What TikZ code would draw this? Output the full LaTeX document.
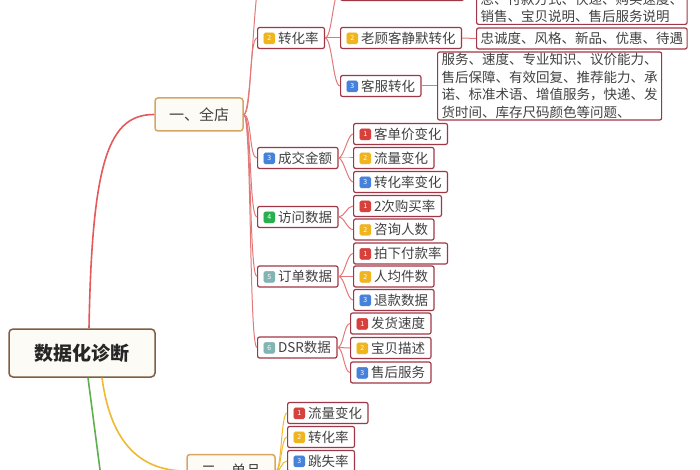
\documentclass[tikz,border=0pt]{standalone}
\usepackage{fontspec}
\setmainfont{Noto Sans CJK SC}
\usetikzlibrary{positioning,calc}
\definecolor{rootbrown}{RGB}{125,95,65}
\definecolor{rootfill}{RGB}{253,251,245}
\definecolor{topictan}{RGB}{215,165,100}
\definecolor{itemred}{RGB}{160,55,70}
\definecolor{linkred}{RGB}{228,120,120}
\definecolor{trunkred}{RGB}{228,90,90}
\definecolor{trunkyellow}{RGB}{240,185,50}
\definecolor{trunkgreen}{RGB}{95,175,80}
\definecolor{textgray}{RGB}{65,65,65}
\definecolor{bdred}{RGB}{215,65,60}
\definecolor{bdyellow}{RGB}{240,180,30}
\definecolor{bdblue}{RGB}{70,130,220}
\definecolor{bdgreen}{RGB}{40,175,80}
\definecolor{bdteal}{RGB}{130,180,180}

% small numbered tag in front of a topic
\newcommand{\badge}[2]{\tikz[baseline={([yshift=-4.8pt]b.center)}]\node[fill=#1,draw=#1,text=white,rounded corners=1.5pt,inner sep=0pt,minimum size=11pt,font=\fontsize{7}{7}\selectfont] (b) {#2};\hspace{3pt}}

\begin{document}
\begin{tikzpicture}[
    x=1pt, y=-1pt,
    rootbox/.style={draw=rootbrown, line width=1.5pt, rounded corners=4pt, fill=rootfill, minimum width=146pt, minimum height=48pt, text=black!85, font=\fontsize{19}{22}\selectfont\bfseries},
    topicbox/.style={draw=topictan, line width=1.5pt, rounded corners=3pt, fill=rootfill, minimum width=88pt, minimum height=33pt, text=textgray, font=\fontsize{15}{18}\selectfont},
    item/.style={draw=itemred, line width=1.2pt, rounded corners=2pt, fill=white, anchor=west, inner xsep=6pt, inner ysep=0pt, minimum height=21pt, text=textgray, font=\fontsize{13.5}{16}\selectfont},
    descbox/.style={draw=itemred, line width=1.2pt, rounded corners=2pt, fill=white, anchor=west, inner xsep=4pt, inner ysep=1.5pt, minimum height=21pt, align=left, text=textgray, font=\fontsize{13.5}{17.5}\selectfont},
    trunk/.style={line width=1.6pt},
    link/.style={draw=linkred, line width=1pt},
    sublink/.style={draw=trunkyellow, line width=1pt},
    branch/.style={to path={.. controls +(#1,0) and +(-#1,0) .. (\tikztotarget)}},
    branch/.default=6
]
\fill[white] (0,0) rectangle (700,470);
\useasboundingbox (0,0) rectangle (700,470);

% Main topics
\node[rootbox] (root) at (82,353) {数据化诊断};
\node[topicbox] (qd) at (199,114.5) {一、全店};
\node[topicbox] (dp) at (231,471) {二、单品};
\coordinate (qdone) at (262,-30);
\coordinate (third) at (102,485);

% Second level
\node[item] (zhl) at (257,38) {\badge{bdyellow}{2}转化率};
\node[item] (cjje) at (257,158) {\badge{bdblue}{3}成交金额};
\node[item] (fwsj) at (257,217) {\badge{bdgreen}{4}访问数据};
\node[item] (ddsj) at (257,276.5) {\badge{bdteal}{5}订单数据};
\node[item] (dsr) at (257,347.5) {\badge{bdteal}{6}DSR数据};

% Third level
\node[item, minimum width=123pt] (zhlone) at (340,-10) {};
\node[item] (lgk) at (340,38) {\badge{bdyellow}{2}老顾客静默转化};
\node[item] (kfzh) at (340,86) {\badge{bdblue}{3}客服转化};
\node[item] (kdj) at (353,134) {\badge{bdred}{1}客单价变化};
\node[item] (llbh) at (353,158) {\badge{bdyellow}{2}流量变化};
\node[item] (zhlbh) at (353,182) {\badge{bdblue}{3}转化率变化};
\node[item] (ecgm) at (353,206) {\badge{bdred}{1}2次购买率};
\node[item] (zxrs) at (353,229.5) {\badge{bdyellow}{2}咨询人数};
\node[item] (pxfk) at (353,253.5) {\badge{bdred}{1}拍下付款率};
\node[item] (rjjs) at (353,276.5) {\badge{bdyellow}{2}人均件数};
\node[item] (tksj) at (353,300) {\badge{bdblue}{3}退款数据};
\node[item] (fhsd) at (350,323.5) {\badge{bdred}{1}发货速度};
\node[item] (bbms) at (350,348) {\badge{bdyellow}{2}宝贝描述};
\node[item] (shfw) at (350,372.5) {\badge{bdblue}{3}售后服务};
\node[item] (dpll) at (287,413) {\badge{bdred}{1}流量变化};
\node[item] (dpzh) at (287,437) {\badge{bdyellow}{2}转化率};
\node[item] (tsl) at (287,461) {\badge{bdblue}{3}跳失率};

% Notes
\node[descbox, anchor=south west] (dsczero) at (476,25) {息、付款方式、快递、购买速度、\\销售、宝贝说明、售后服务说明};
\node[descbox] (dscone) at (476,38.5) {忠诚度、风格、新品、优惠、待遇};
\node[descbox] (dsctwo) at (437,86) {服务、速度、专业知识、议价能力、\\售后保障、有效回复、推荐能力、承\\诺、标准术语、增值服务，快递、发\\货时间、库存尺码颜色等问题、};

% Trunks
\draw[trunk, draw=trunkred] ([xshift=7pt]root.north) .. controls +(3,-170) and +(-45,0) .. (qd.west);
\draw[trunk, draw=trunkyellow] ([xshift=20pt]root.south) .. controls +(8,60) and +(-50,0) .. (dp.west);
\draw[trunk, draw=trunkgreen] ([xshift=6pt]root.south) -- (third);

% Branches
\draw[link] (qd.east) to[branch=8] (qdone);
\draw[link] (qd.east) to[branch=8] (zhl.west);
\draw[link] (qd.east) to[branch=8] (cjje.west);
\draw[link] (qd.east) to[branch=8] (fwsj.west);
\draw[link] (qd.east) to[branch=8] (ddsj.west);
\draw[link] (qd.east) to[branch=8] (dsr.west);
\draw[link] (zhl.east) to[branch=7] (zhlone.west);
\draw[link] (zhl.east) to[branch=7] (lgk.west);
\draw[link] (zhl.east) to[branch=7] (kfzh.west);
\draw[link] (cjje.east) to[branch=5] (kdj.west);
\draw[link] (cjje.east) to[branch=5] (llbh.west);
\draw[link] (cjje.east) to[branch=5] (zhlbh.west);
\draw[link] (fwsj.east) to[branch=6] (ecgm.west);
\draw[link] (fwsj.east) to[branch=6] (zxrs.west);
\draw[link] (ddsj.east) to[branch=6] (pxfk.west);
\draw[link] (ddsj.east) to[branch=6] (rjjs.west);
\draw[link] (ddsj.east) to[branch=6] (tksj.west);
\draw[link] (dsr.east) to[branch=6] (fhsd.west);
\draw[link] (dsr.east) to[branch=6] (bbms.west);
\draw[link] (dsr.east) to[branch=6] (shfw.west);
\draw[link] (zhlone.east) -- (zhlone.east -| dsczero.west);
\draw[link] (lgk.east) -- (dscone.west);
\draw[link] (kfzh.east) -- (dsctwo.west);
\draw[sublink] (dp.east) to[branch=6] (dpll.west);
\draw[sublink] (dp.east) to[branch=6] (dpzh.west);
\draw[sublink] (dp.east) to[branch=6] (tsl.west);

\end{tikzpicture}
\end{document}
